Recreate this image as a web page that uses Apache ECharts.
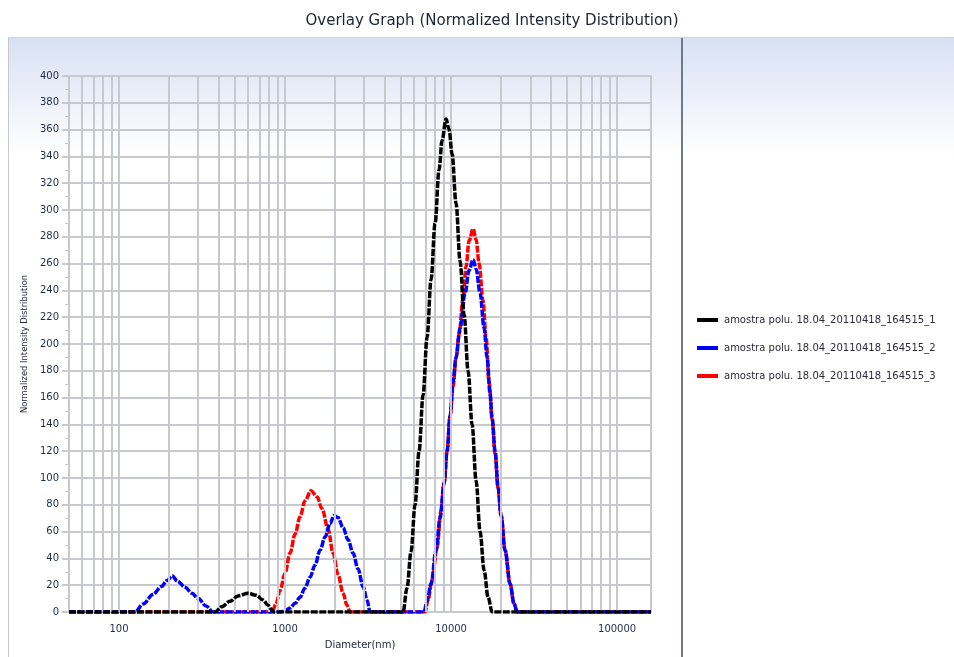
<!DOCTYPE html>
<html>
<head>
<meta charset="utf-8">
<script src="https://cdn.jsdelivr.net/npm/echarts@6/dist/echarts.min.js"></script>
<style>html,body{margin:0;padding:0;background:#fff;}#c{width:954px;height:657px;}</style>
</head>
<body>
<div id="c"></div>
<script>
const titleText = 'Overlay Graph (Normalized Intensity Distribution)';
const seriesNames = ['amostra polu. 18.04_20110418_164515_1', 'amostra polu. 18.04_20110418_164515_2', 'amostra polu. 18.04_20110418_164515_3'];
const seriesColors = ['#000000', '#0000ff', '#ff0000'];
const xTickLabels = [100, 1000, 10000, 100000];
const gridDiameters = [60, 70, 80, 90, 100, 200, 300, 400, 500, 600, 700, 800, 900, 1000, 2000, 3000, 4000, 5000, 6000, 7000, 8000, 9000, 10000, 20000, 30000, 40000, 50000, 60000, 70000, 80000, 90000, 100000];

const blackD = [50, 379, 417, 466, 521, 599, 669, 737, 790, 835, 859, 5138, 5431, 5741, 6069, 6416, 6782, 7169, 7578, 8011, 8468, 8826, 9331, 9727, 10140, 10718, 11331, 11977, 12662, 13385, 14148, 14956, 15810, 16713, 17666, 160000];
const blackV = [0, 0, 4, 8, 12, 14, 12.5, 9, 5, 1.5, 0, 0, 18, 45, 80, 120, 162, 205, 248, 290, 330, 352, 368, 360, 342, 305, 262, 222, 180, 140, 98, 60, 31, 11, 0, 0];

const blueD = [50, 125, 140, 160, 180, 195, 209, 225, 250, 275, 300, 335, 368, 933, 1000, 1072, 1149, 1231, 1319, 1415, 1516, 1625, 1742, 1867, 1974, 2086, 2236, 2396, 2568, 2754, 2951, 3119, 3251, 6877, 7169, 7578, 8122, 8585, 9074, 9461, 9863, 10280, 10718, 11331, 12144, 12836, 13570, 14148, 14956, 15810, 16480, 17175, 17666, 18416, 19196, 20010, 21152, 22669, 23962, 24981, 160000];
const blueV = [0, 0, 6, 13, 19, 23.5, 27, 23, 18.5, 14, 10, 4.5, 0, 0, 1, 3, 6.5, 11, 18, 26, 35, 46, 56, 66, 72, 70.5, 63, 54, 44, 32, 19, 9, 0, 0, 8, 21, 46, 70, 96, 120, 146, 172, 190, 212, 238, 255, 263, 256, 238, 212, 190, 163, 145, 120, 93, 72, 46, 21, 6, 0, 0];

const redD = [50, 835, 882, 933, 1000, 1072, 1149, 1231, 1319, 1434, 1559, 1671, 1816, 1947, 2086, 2236, 2363, 2464, 6973, 7267, 7684, 8235, 8705, 9074, 9461, 9863, 10280, 10718, 11173, 11813, 12312, 12836, 13570, 14148, 14751, 15585, 16246, 16938, 17666, 18413, 19195, 20010, 21150, 22670, 23962, 24981, 160000];
const redV = [0, 0, 6, 16, 29, 44, 58, 71, 83, 90.5, 86, 77, 62, 44, 28, 14, 5, 0, 0, 9, 24, 48, 76, 96, 120, 146, 168, 190, 207, 234, 258, 277, 286, 278, 260, 232, 205, 172, 144, 118, 92, 72, 46, 21, 6, 0, 0];

const pairs = (d, v) => d.map((x, i) => [x, v[i]]);
const seriesData = [pairs(blackD, blackV), pairs(blueD, blueV), pairs(redD, redV)];

const FONT = 'DejaVu Sans';
const GRID_COLOR = '#c6cacf';
const bgGrad = () => new echarts.graphic.LinearGradient(0, 0, 0, 1, [
  {offset: 0, color: '#d8e1f3'},
  {offset: 0.07, color: '#e6ebf7'},
  {offset: 0.14, color: '#f5f7fc'},
  {offset: 0.19, color: '#ffffff'},
  {offset: 1, color: '#ffffff'}
]);

const chart = echarts.init(document.getElementById('c'), null, {renderer: 'canvas'});
const zOrder = [5, 4, 3];
chart.setOption({
  animation: false,
  backgroundColor: '#ffffff',
  title: {
    text: titleText, left: 487, top: 9, textAlign: 'center',
    textStyle: {fontFamily: FONT, fontSize: 15, fontWeight: 'normal', color: '#1c2333'}
  },
  graphic: {elements: [
    {type: 'rect', z: -100, silent: true, shape: {x: 8, y: 38, width: 674, height: 619}, style: {fill: bgGrad()}},
    {type: 'rect', z: -100, silent: true, shape: {x: 683, y: 38, width: 271, height: 619}, style: {fill: bgGrad()}},
    {type: 'line', z: -99, silent: true, shape: {x1: 8, y1: 37.5, x2: 954, y2: 37.5}, style: {stroke: '#d6d3c9', lineWidth: 1}},
    {type: 'line', z: -99, silent: true, shape: {x1: 8.5, y1: 38, x2: 8.5, y2: 657}, style: {stroke: '#c4c8cc', lineWidth: 1}},
    {type: 'line', z: 50, silent: true, shape: {x1: 682, y1: 38, x2: 682, y2: 657}, style: {stroke: '#6c7b89', lineWidth: 2}}
  ]},
  legend: {
    orient: 'vertical', left: 692, top: 308, itemWidth: 21, itemHeight: 4, itemGap: 14, icon: 'rect',
    data: seriesNames,
    textStyle: {fontFamily: FONT, fontSize: 10, color: '#2a2a3a', lineHeight: 14, padding: [0, 0, 0, 1]},
    inactiveColor: '#ccc'
  },
  grid: {left: 69, top: 76, right: 303, bottom: 45, show: true, borderColor: GRID_COLOR, borderWidth: 2, backgroundColor: 'transparent'},
  xAxis: {
    type: 'log', logBase: 10, min: 50, max: 160000,
    name: 'Diameter(nm)', nameLocation: 'middle', nameGap: 28,
    nameTextStyle: {fontFamily: FONT, fontSize: 10, color: '#222a3a'},
    axisLine: {show: false}, axisTick: {show: false}, splitLine: {show: false},
    axisLabel: {
      fontFamily: FONT, fontSize: 10, color: '#1e2a48', margin: 12,
      formatter: v => xTickLabels.some(t => Math.abs(t - v) / t < 1e-6) ? String(Math.round(v)) : '',
      showMinLabel: false, showMaxLabel: false
    }
  },
  yAxis: {
    type: 'value', min: 0, max: 400, interval: 20,
    name: 'Normalized Intensity Distribution', nameLocation: 'middle', nameGap: 36, nameRotate: 90,
    nameTextStyle: {fontFamily: FONT, fontSize: 8.4, color: '#222a3a'},
    axisLine: {show: true, lineStyle: {color: GRID_COLOR, width: 2}},
    axisTick: {show: true, length: 7, lineStyle: {color: GRID_COLOR, width: 2}},
    minorTick: {show: true, splitNumber: 2, length: 4, lineStyle: {color: GRID_COLOR, width: 1}},
    splitLine: {show: true, lineStyle: {color: GRID_COLOR, width: 2}},
    axisLabel: {fontFamily: FONT, fontSize: 10, color: '#1e2a48', margin: 10}
  },
  series: [
    {
      name: '_grid', type: 'line', data: [], silent: true, z: 1,
      markLine: {
        silent: true, symbol: 'none', animation: false,
        label: {show: false},
        lineStyle: {type: 'solid', color: GRID_COLOR, width: 2},
        emphasis: {disabled: true},
        data: gridDiameters.map(v => ({xAxis: v}))
      }
    }
  ].concat(seriesNames.map((n, i) => ({
    name: n, type: 'line', data: seriesData[i], z: zOrder[i],
    showSymbol: false, symbol: 'none', smooth: 0.35, smoothMonotone: 'x',
    color: seriesColors[i],
    lineStyle: {color: seriesColors[i], width: 3.5, type: [7, 1.5], cap: 'butt', join: 'round'},
    emphasis: {disabled: true}
  })))
});
</script>
</body>
</html>
